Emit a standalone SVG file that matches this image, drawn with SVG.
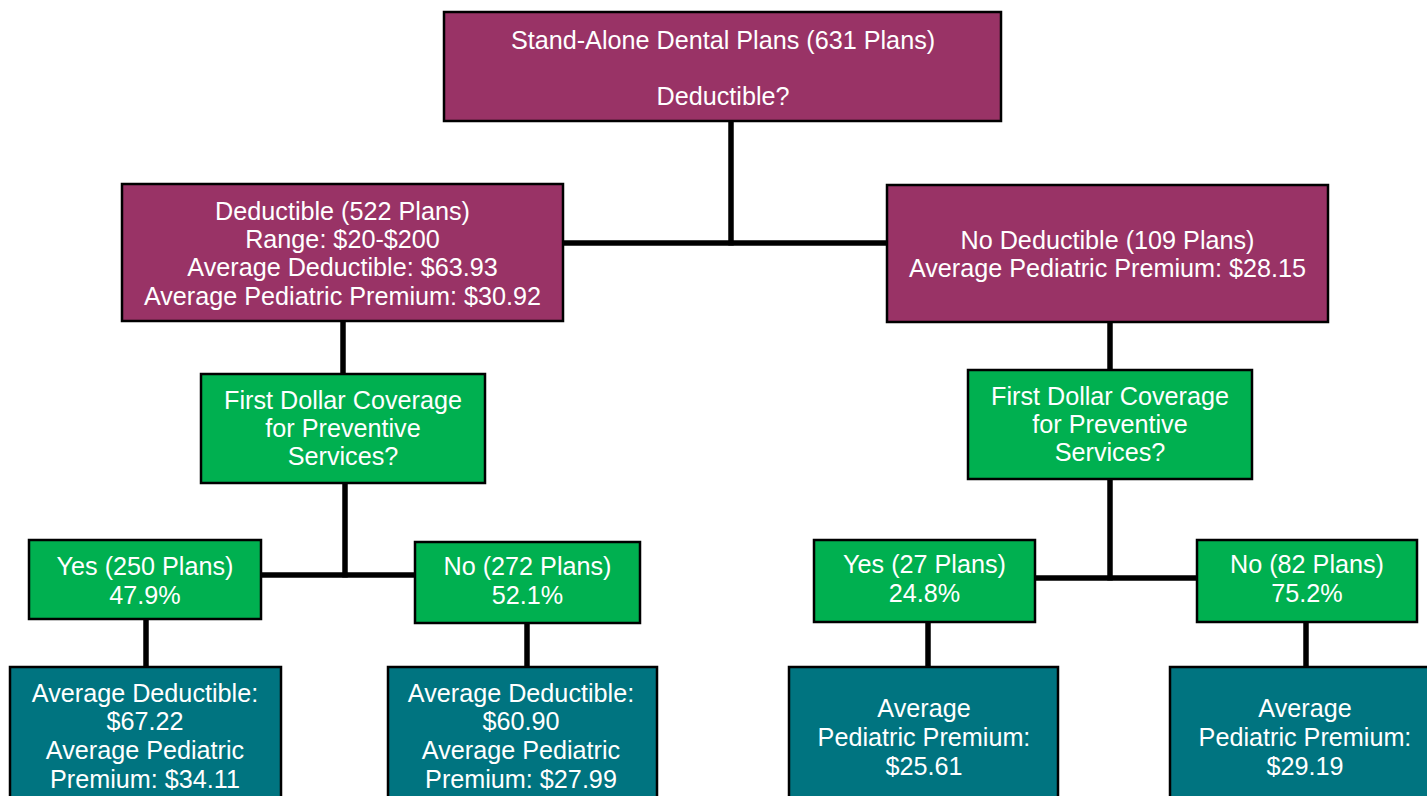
<svg xmlns="http://www.w3.org/2000/svg" width="1427" height="796" viewBox="0 0 1427 796">
<style>
.p{fill:#993366;stroke:#000;stroke-width:2.5}
.g{fill:#00B050;stroke:#000;stroke-width:2.5}
.t{fill:#007480;stroke:#000;stroke-width:2.5}
text{font-family:"Liberation Sans",Arial,sans-serif;font-size:25.2px;fill:#fff;text-anchor:middle}
.c line{stroke:#000;stroke-width:5.5}
</style>
<rect width="1427" height="796" fill="#fff"/>
<g class="c" id="connectors">
<line x1="731" y1="121" x2="731" y2="245.5"/>
<line x1="563" y1="243" x2="887" y2="243"/>
<line x1="343" y1="321" x2="343" y2="374"/>
<line x1="345" y1="483" x2="345" y2="577.5"/>
<line x1="261" y1="575" x2="415" y2="575"/>
<line x1="146" y1="619" x2="146" y2="667"/>
<line x1="527" y1="623" x2="527" y2="667"/>
<line x1="1110" y1="322" x2="1110" y2="370"/>
<line x1="1110" y1="479" x2="1110" y2="580.5"/>
<line x1="1035" y1="578" x2="1197" y2="578"/>
<line x1="928" y1="622" x2="928" y2="667"/>
<line x1="1306" y1="622" x2="1306" y2="667"/>
</g>
<g id="root"><rect class="p" x="444" y="12" width="557" height="109"/>
<text x="723" y="49">Stand-Alone Dental Plans (631 Plans)</text>
<text x="723" y="105">Deductible?</text></g>
<g id="ded"><rect class="p" x="122" y="184" width="441" height="137"/>
<text x="342.5" y="220">Deductible (522 Plans)</text>
<text x="342.5" y="248">Range: $20-$200</text>
<text x="342.5" y="276">Average Deductible: $63.93</text>
<text x="342.5" y="305">Average Pediatric Premium: $30.92</text></g>
<g id="noded"><rect class="p" x="887" y="185" width="441" height="137"/>
<text x="1107.5" y="249">No Deductible (109 Plans)</text>
<text x="1107.5" y="277">Average Pediatric Premium: $28.15</text></g>
<g id="fd1"><rect class="g" x="201" y="374" width="284" height="109"/>
<text x="343" y="409">First Dollar Coverage</text>
<text x="343" y="437">for Preventive</text>
<text x="343" y="465">Services?</text></g>
<g id="fd2"><rect class="g" x="968" y="370" width="284" height="109"/>
<text x="1110" y="405">First Dollar Coverage</text>
<text x="1110" y="433">for Preventive</text>
<text x="1110" y="461">Services?</text></g>
<g id="yes1"><rect class="g" x="29" y="540" width="232" height="79"/>
<text x="145" y="575">Yes (250 Plans)</text>
<text x="145" y="604">47.9%</text></g>
<g id="no1"><rect class="g" x="415" y="542" width="225" height="81"/>
<text x="527.5" y="575">No (272 Plans)</text>
<text x="527.5" y="604">52.1%</text></g>
<g id="yes2"><rect class="g" x="814" y="540" width="221" height="82"/>
<text x="924.5" y="573">Yes (27 Plans)</text>
<text x="924.5" y="602">24.8%</text></g>
<g id="no2"><rect class="g" x="1197" y="540" width="220" height="82"/>
<text x="1307" y="573">No (82 Plans)</text>
<text x="1307" y="602">75.2%</text></g>
<g id="r1"><rect class="t" x="10" y="667" width="271" height="140"/>
<text x="145" y="702">Average Deductible:</text>
<text x="145" y="730">$67.22</text>
<text x="145" y="759">Average Pediatric</text>
<text x="145" y="788">Premium: $34.11</text></g>
<g id="r2"><rect class="t" x="388" y="667" width="269" height="140"/>
<text x="521" y="702">Average Deductible:</text>
<text x="521" y="730">$60.90</text>
<text x="521" y="759">Average Pediatric</text>
<text x="521" y="788">Premium: $27.99</text></g>
<g id="r3"><rect class="t" x="789" y="667" width="269" height="140"/>
<text x="924" y="717">Average</text>
<text x="924" y="746">Pediatric Premium:</text>
<text x="924" y="775">$25.61</text></g>
<g id="r4"><rect class="t" x="1170" y="667" width="280" height="140"/>
<text x="1305" y="717">Average</text>
<text x="1305" y="746">Pediatric Premium:</text>
<text x="1305" y="775">$29.19</text></g>
</svg>
